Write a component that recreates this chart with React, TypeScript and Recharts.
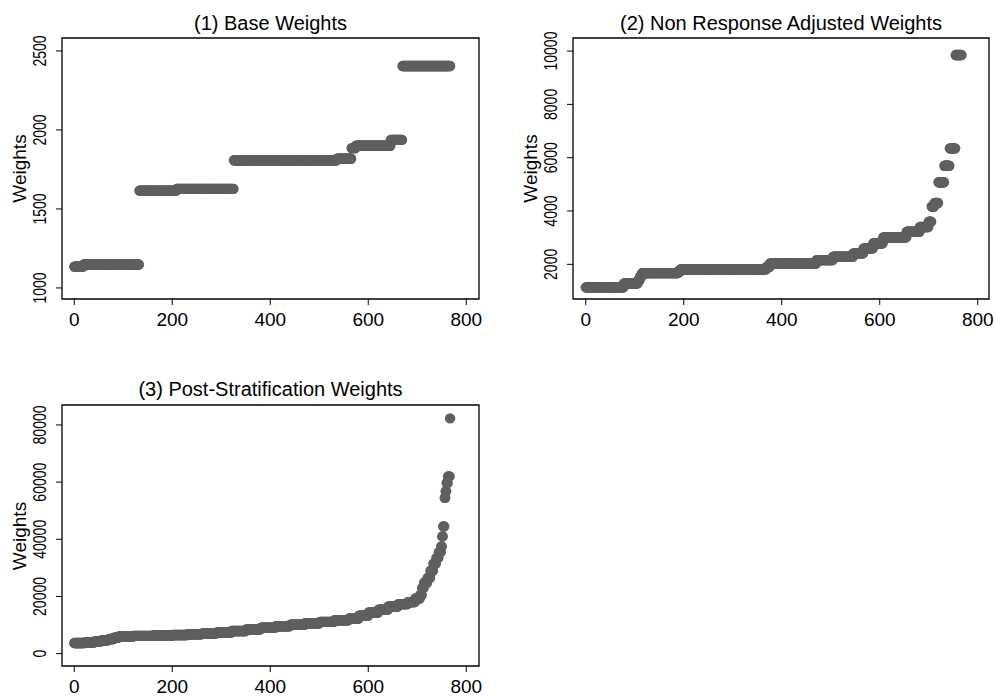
import React from 'react';
import { ScatterChart, Scatter, XAxis, YAxis, ReferenceArea } from 'recharts';

// runs of [first index, last index, weight]
const baseRuns: [number, number, number][] = [
  [0, 18, 1135],
  [19, 132, 1148],
  [133, 208, 1616],
  [209, 325, 1627],
  [326, 535, 1808],
  [536, 565, 1818],
  [566, 574, 1885],
  [575, 645, 1900],
  [646, 669, 1937],
  [670, 767, 2405],
];

const nonRespRuns: [number, number, number][] = [
  [0, 77, 1137],
  [78, 106, 1287],
  [107, 110, 1400],
  [111, 114, 1550],
  [115, 188, 1670],
  [189, 193, 1740],
  [194, 368, 1815],
  [369, 375, 1900],
  [376, 470, 2030],
  [471, 504, 2160],
  [505, 545, 2285],
  [546, 566, 2410],
  [567, 586, 2600],
  [587, 606, 2790],
  [607, 654, 3010],
  [655, 681, 3220],
  [682, 699, 3400],
  [700, 705, 3600],
  [706, 711, 4170],
  [712, 719, 4300],
  [720, 731, 5080],
  [732, 742, 5700],
  [743, 754, 6350],
  [755, 767, 9850],
];

const postStratRuns: [number, number, number][] = [
  [0, 20, 3700],
  [21, 40, 3900],
  [41, 55, 4300],
  [56, 70, 4700],
  [71, 80, 5100],
  [81, 90, 5600],
  [91, 120, 6000],
  [121, 160, 6200],
  [161, 200, 6350],
  [201, 230, 6500],
  [231, 260, 6800],
  [261, 290, 7100],
  [291, 320, 7400],
  [321, 350, 7900],
  [351, 380, 8500],
  [381, 410, 9100],
  [411, 440, 9600],
  [441, 470, 10100],
  [471, 500, 10600],
  [501, 530, 11100],
  [531, 560, 11700],
  [561, 580, 12300],
  [581, 600, 13300],
  [601, 620, 14400],
  [621, 640, 15400],
  [641, 660, 16500],
  [661, 680, 17300],
  [681, 695, 18000],
  [696, 705, 19300],
  [706, 709, 20500],
  [710, 713, 23000],
  [714, 720, 24800],
  [721, 726, 26500],
  [727, 732, 29000],
  [733, 738, 31500],
  [739, 743, 33500],
  [744, 748, 35500],
  [749, 750, 37500],
  [751, 752, 41000],
  [753, 755, 44500],
  [756, 757, 54500],
  [758, 759, 56800],
  [760, 762, 59700],
  [763, 766, 62000],
  [767, 767, 82300],
];

const xTicks = [0, 200, 400, 600, 800];
const baseTicks = [1000, 1500, 2000, 2500];
const nonRespTicks = [2000, 4000, 6000, 8000, 10000];
const postStratTicks = [0, 20000, 40000, 60000, 80000];

const FONT = '"Liberation Sans", Arial, Helvetica, sans-serif';
const DOT = '#5f5f5f';

function expand(runs: [number, number, number][]) {
  const pts: { idx: number; w: number }[] = [];
  for (const [s, e, v] of runs) {
    for (let i = s; i <= e; i++) pts.push({ idx: i, w: v });
  }
  return pts;
}

const XTick = (props: any) => (
  <text x={props.x} y={props.y} dy={18.5} textAnchor="middle" fontSize={19} fontFamily={FONT} fill="#000">
    {props.payload.value}
  </text>
);

const YTick = (props: any) => {
  const cx = props.x - 14.5;
  return (
    <text
      transform={`translate(${cx},${props.y}) rotate(-90) scale(0.74,1)`}
      textAnchor="middle"
      dominantBaseline="central"
      fontSize={19}
      fontFamily={FONT}
      fill="#000"
    >
      {props.payload.value}
    </text>
  );
};

const Dot = (props: any) => <circle cx={props.cx} cy={props.cy} r={5.2} fill={DOT} />;

interface PanelProps {
  left: number;
  top: number;
  width: number;
  height: number;
  box: { l: number; r: number; t: number; b: number };
  xDomain: [number, number];
  yDomain: [number, number];
  yTicks: number[];
  data: { idx: number; w: number }[];
}

function Panel({ left, top, width, height, box, xDomain, yDomain, yTicks, data }: PanelProps) {
  return (
    <div style={{ position: 'absolute', left, top }}>
      <ScatterChart
        width={width}
        height={height}
        margin={{ top: box.t, right: width - box.r, bottom: 0, left: 0 }}
      >
        <XAxis
          type="number"
          dataKey="idx"
          domain={xDomain}
          ticks={xTicks}
          allowDataOverflow
          height={height - box.b}
          axisLine={false}
          tickSize={6}
          tickLine={{ stroke: '#000', strokeWidth: 1 }}
          tick={<XTick />}
        />
        <YAxis
          type="number"
          dataKey="w"
          domain={yDomain}
          ticks={yTicks}
          allowDataOverflow
          width={box.l}
          axisLine={false}
          tickSize={6}
          tickLine={{ stroke: '#000', strokeWidth: 1 }}
          tick={<YTick />}
        />
        <Scatter data={data} shape={<Dot />} isAnimationActive={false} />
        <ReferenceArea
          x1={xDomain[0]}
          x2={xDomain[1]}
          y1={yDomain[0]}
          y2={yDomain[1]}
          fill="none"
          stroke="#000"
          strokeWidth={1.3}
          ifOverflow="visible"
        />
      </ScatterChart>
    </div>
  );
}

export default function App() {
  return (
    <div style={{ position: 'absolute', left: 0, top: 0, width: 995, height: 696, background: '#fff' }}>
      <Panel
        left={0}
        top={0}
        width={495}
        height={340}
        box={{ l: 62, r: 479, t: 38, b: 299 }}
        xDomain={[-25, 826]}
        yDomain={[930, 2582]}
        yTicks={baseTicks}
        data={expand(baseRuns)}
      />
      <Panel
        left={500}
        top={0}
        width={495}
        height={340}
        box={{ l: 73, r: 489, t: 38, b: 299 }}
        xDomain={[-26, 823]}
        yDomain={[700, 10490]}
        yTicks={nonRespTicks}
        data={expand(nonRespRuns)}
      />
      <Panel
        left={0}
        top={360}
        width={495}
        height={336}
        box={{ l: 62, r: 479, t: 45, b: 306 }}
        xDomain={[-25, 826]}
        yDomain={[-4330, 86980]}
        yTicks={postStratTicks}
        data={expand(postStratRuns)}
      />
      <svg
        width={995}
        height={696}
        style={{ position: 'absolute', left: 0, top: 0, pointerEvents: 'none' }}
        fontFamily={FONT}
        fill="#000"
      >
        <text x={270.5} y={30} textAnchor="middle" fontSize={20}>(1) Base Weights</text>
        <text x={781} y={30} textAnchor="middle" fontSize={20}>(2) Non Response Adjusted Weights</text>
        <text x={270.5} y={396} textAnchor="middle" fontSize={20}>(3) Post-Stratification Weights</text>
        <text transform="translate(19,168.5) rotate(-90)" textAnchor="middle" dominantBaseline="central" fontSize={19}>Weights</text>
        <text transform="translate(530,168.5) rotate(-90)" textAnchor="middle" dominantBaseline="central" fontSize={19}>Weights</text>
        <text transform="translate(19,536) rotate(-90)" textAnchor="middle" dominantBaseline="central" fontSize={19}>Weights</text>
      </svg>
    </div>
  );
}
